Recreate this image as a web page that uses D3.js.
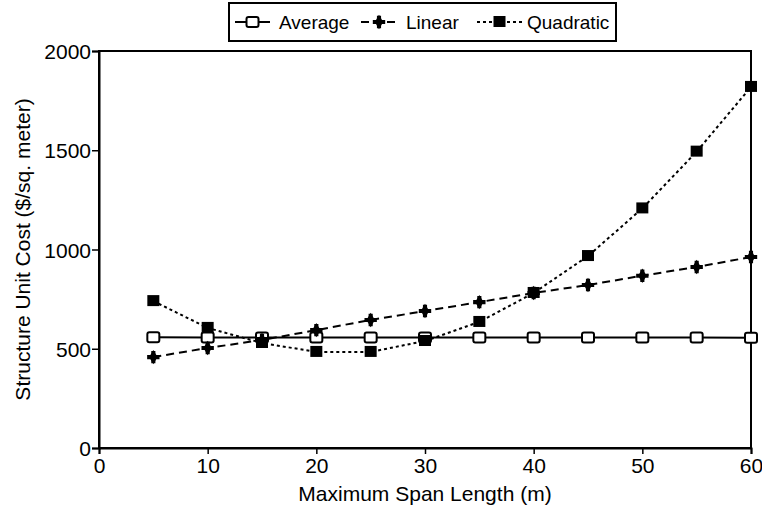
<!DOCTYPE html>
<html>
<head>
<meta charset="utf-8">
<script src="https://cdn.jsdelivr.net/npm/d3@7"></script>
<style>
	body { margin: 0; background: #fff; }
	text { font-family: "Liberation Sans", Arial, sans-serif; fill: #000; }
</style>
</head>
<body>
<svg id="container"></svg>
<script>
// span lengths (m)
const spans = [5, 10, 15, 20, 25, 30, 35, 40, 45, 50, 55, 60];
// unit cost series ($/sq. meter)
const average = [558, 557, 557, 557, 557, 557, 557, 557, 557, 557, 557, 555];
const linear = [458, 504, 544, 594, 645, 690, 735, 781, 821, 868, 912, 962];
const quadratic = [740, 605, 529, 484, 484, 539, 635, 781, 967, 1207, 1493, 1819];

const xTicks = [0, 10, 20, 30, 40, 50, 60];
const yTicks = [0, 500, 1000, 1500, 2000];
const seriesNames = ["Average", "Linear", "Quadratic"];

function drawChart() {
	const W = 762, H = 506;
	const margin = { top: 51, right: 11, bottom: 58, left: 99 };

	const svg = d3.select("#container")
		.attr("width", W)
		.attr("height", H);

	const x = d3.scaleLinear().domain([0, 60]).range([margin.left, W - margin.right]);
	const y = d3.scaleLinear().domain([0, 2000]).range([H - margin.bottom, margin.top]);

	// frame
	svg.append("rect")
		.attr("x", x(0)).attr("y", y(2000))
		.attr("width", x(60) - x(0)).attr("height", y(0) - y(2000))
		.attr("fill", "none").attr("stroke", "#000").attr("stroke-width", 2);

	// axes
	const gX = svg.append("g")
		.attr("transform", "translate(0," + y(0) + ")")
		.call(d3.axisBottom(x).tickValues(xTicks).tickSize(6).tickPadding(4).tickFormat(d3.format("d")));
	const gY = svg.append("g")
		.attr("transform", "translate(" + x(0) + ",0)")
		.call(d3.axisLeft(y).tickValues(yTicks).tickSize(7).tickPadding(1).tickFormat(d3.format("d")));

	[gX, gY].forEach(g => {
		g.select(".domain").attr("stroke-width", 2);
		g.selectAll(".tick line").attr("stroke-width", 1.5);
		g.selectAll(".tick text").style("font-size", "21px").attr("font-family", null);
	});
	gY.selectAll(".tick text").attr("dy", "0.36em");

	// axis titles
	svg.append("text")
		.attr("x", (x(0) + x(60)) / 2).attr("y", 501)
		.attr("text-anchor", "middle").style("font-size", "21px")
		.text("Maximum Span Length (m)");
	svg.append("text")
		.attr("transform", "translate(30," + ((y(0) + y(2000)) / 2) + ") rotate(-90)")
		.attr("text-anchor", "middle").style("font-size", "21px")
		.text("Structure Unit Cost ($/sq. meter)");

	const line = d3.line().x((d, i) => x(spans[i])).y(d => y(d));
	const dashes = [null, "8,5", "3,3"];
	const data = [average, linear, quadratic];

	const plot = svg.append("g");
	data.forEach((vals, k) => {
		plot.append("path")
			.datum(vals)
			.attr("d", line)
			.attr("fill", "none")
			.attr("stroke", "#000")
			.attr("stroke-width", 2)
			.attr("stroke-dasharray", dashes[k]);
	});

	// markers
	function marker(g, k, cx, cy) {
		if (k === 0) {
			g.append("rect")
				.attr("x", cx - 6).attr("y", cy - 5).attr("width", 12).attr("height", 10)
				.attr("rx", 2)
				.attr("fill", "#fff").attr("stroke", "#000").attr("stroke-width", 2);
		} else if (k === 1) {
			g.append("path")
				.attr("d", d3.symbol().type(d3.symbolCross).size(85)())
				.attr("transform", "translate(" + cx + "," + cy + ")")
				.attr("fill", "#000");
			g.append("path")
				.attr("d", d3.symbol().type(d3.symbolDiamond).size(60)())
				.attr("transform", "translate(" + cx + "," + cy + ")")
				.attr("fill", "#000");
		} else {
			g.append("rect")
				.attr("x", cx - 6).attr("y", cy - 6).attr("width", 12).attr("height", 11)
				.attr("fill", "#000");
		}
	}

	data.forEach((vals, k) => {
		vals.forEach((v, i) => marker(plot, k, x(spans[i]), y(v)));
	});

	// legend
	const legend = svg.append("g");
	legend.append("rect")
		.attr("x", 229).attr("y", 3).attr("width", 387).attr("height", 38)
		.attr("fill", "#fff").attr("stroke", "#000").attr("stroke-width", 2);
	const lx = [235, 361, 477];
	const lw = [35, 36, 45];
	seriesNames.forEach((name, k) => {
		const x0 = lx[k], cy = 22;
		legend.append("line")
			.attr("x1", x0).attr("x2", x0 + lw[k]).attr("y1", cy).attr("y2", cy)
			.attr("stroke", "#000").attr("stroke-width", 2)
			.attr("stroke-dasharray", dashes[k]);
		marker(legend, k, x0 + lw[k] / 2, cy);
		legend.append("text")
			.attr("x", x0 + lw[k] + (k === 2 ? 5 : 9)).attr("y", cy + 7)
			.style("font-size", "19px")
			.text(name);
	});
}

drawChart();
</script>
</body>
</html>
